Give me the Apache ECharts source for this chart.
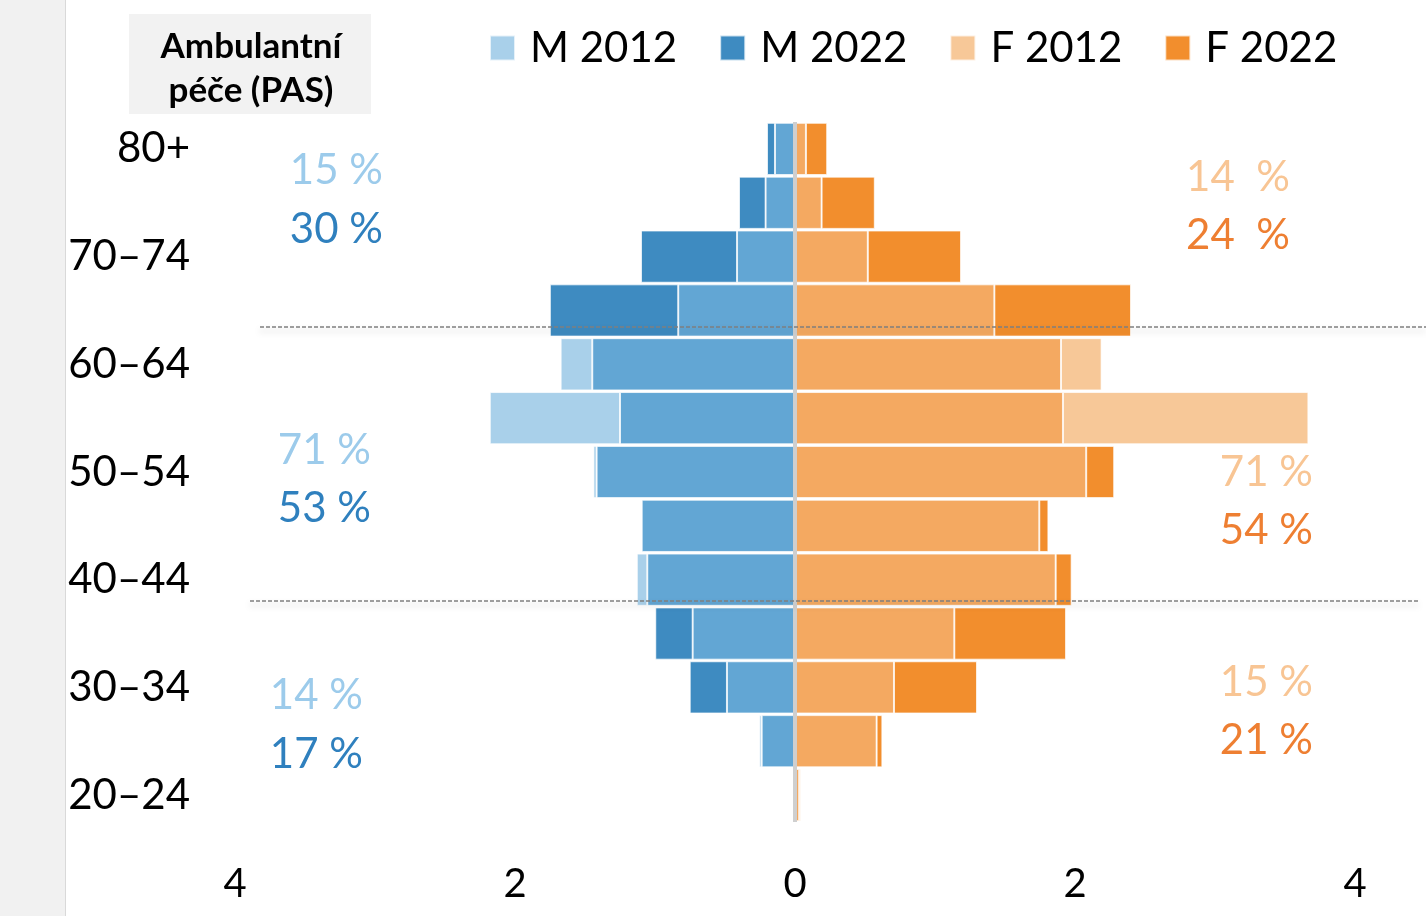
<!DOCTYPE html>
<html>
<head>
<meta charset="utf-8">
<script src="https://cdn.jsdelivr.net/npm/echarts@6/dist/echarts.min.js"></script>
<style>
html, body { margin: 0; padding: 0; background: #fff; }
#chart { width: 1426px; height: 916px; }
</style>
</head>
<body>
<div id="chart"></div>
<script>
// age groups, bottom to top
var ageGroups = ['20–24', '25–29', '30–34', '35–39', '40–44', '45–49', '50–54', '55–59', '60–64', '65–69', '70–74', '75–79', '80+'];
var m2012 = [0.01, 0.255, 0.486, 0.731, 1.13, 1.095, 1.44, 2.18, 1.674, 0.834, 0.414, 0.21, 0.143];
var m2022 = [0.01, 0.238, 0.752, 0.998, 1.055, 1.095, 1.417, 1.25, 1.448, 1.751, 1.10, 0.40, 0.20];
var f2012 = [0.03, 0.583, 0.707, 1.138, 1.862, 1.745, 2.08, 3.667, 2.19, 1.424, 0.52, 0.19, 0.078];
var f2022 = [0.04, 0.624, 1.30, 1.936, 1.976, 1.81, 2.28, 1.914, 1.90, 2.40, 1.186, 0.57, 0.23];

// share labels: [2012, 2022] for top / middle / bottom age blocks
var mShares = [['15 %', '30 %'], ['71 %', '53 %'], ['14 %', '17 %']];
var fShares = [['14  %', '24  %'], ['71 %', '54 %'], ['15 %', '21 %']];

var cM12 = '#a9d0ea', cM22 = '#3e8bc1', cMov = '#62a6d4';
var cF12 = '#f7c898', cF22 = '#f28e2d', cFov = '#f4a961';
var txtM12 = '#9ccbeb', txtM22 = '#2f80be', txtF12 = '#f8c594', txtF22 = '#ee7f32';
var font = 'Lato, "Open Sans", sans-serif';

function overlap(a, b, sign) {
    return a.map(function (v, i) { return sign * Math.min(v, b[i]); });
}
function excess(a, b, sign) {
    return a.map(function (v, i) {
        var d = v - b[i];
        return d > 0.001 ? sign * d : '-';
    });
}

function bar(name, data, stack, color, extra) {
    var s = {
        name: name,
        type: 'bar',
        stack: stack,
        data: data,
        barGap: '-100%',
        barCategoryGap: '3%',
        itemStyle: { color: color, borderColor: 'rgba(255,255,255,0.7)', borderWidth: 1 },
        emphasis: { disabled: true }
    };
    if (extra) { for (var k in extra) s[k] = extra[k]; }
    return s;
}

function shareText(str, x, y, color) {
    return {
        type: 'text', x: x, y: y, z: 10,
        style: { text: str, fill: color, font: '42px ' + font, textAlign: 'right', textVerticalAlign: 'middle' }
    };
}

function dashLine(x1, x2, y) {
    return {
        type: 'line', z: 20, silent: true,
        shape: { x1: x1, y1: y, x2: x2, y2: y },
        style: {
            stroke: '#7f7f7f', lineWidth: 1.5, lineDash: [4, 2],
            shadowBlur: 6, shadowOffsetY: 4, shadowColor: 'rgba(0,0,0,0.25)'
        }
    };
}

var chart = echarts.init(document.getElementById('chart'));
var option = {
    backgroundColor: '#fff',
    animation: false,
    textStyle: { fontFamily: font },
    grid: { left: 235, right: 71, top: 122, bottom: 94, containLabel: false },
    legend: {
        data: ['M 2012', 'M 2022', 'F 2012', 'F 2022'],
        left: 484, top: 22,
        itemWidth: 25, itemHeight: 25, itemGap: 42,
        icon: 'rect', selectedMode: false,
        textStyle: { fontSize: 42, color: '#000', padding: [0, 0, 0, 10], fontFamily: font }
    },
    xAxis: {
        type: 'value', min: -4, max: 4, interval: 2,
        axisLine: { show: false }, axisTick: { show: false }, splitLine: { show: false },
        axisLabel: {
            fontSize: 40, color: '#000', margin: 42,
            formatter: function (v) { return Math.abs(v); }
        }
    },
    yAxis: {
        type: 'category', data: ageGroups,
        axisLine: { show: false, onZero: false }, axisTick: { show: false },
        axisLabel: { interval: 1, fontSize: 42, color: '#000', margin: 45 }
    },
    series: [
        bar('M ov', overlap(m2012, m2022, -1), 'm', cMov, {
            markLine: {
                silent: true, symbol: 'none', label: { show: false },
                lineStyle: { color: '#cfcfcf', width: 4, type: 'solid' },
                data: [{ xAxis: 0 }]
            }
        }),
        bar('M 2022', excess(m2022, m2012, -1), 'm', cM22),
        bar('M 2012', excess(m2012, m2022, -1), 'm', cM12),
        bar('F ov', overlap(f2012, f2022, 1), 'f', cFov),
        bar('F 2022', excess(f2022, f2012, 1), 'f', cF22),
        bar('F 2012', excess(f2012, f2022, 1), 'f', cF12)
    ],
    graphic: [
        { type: 'rect', z: 0, shape: { x: 0, y: 0, width: 65, height: 916 }, style: { fill: '#f1f1f1' } },
        { type: 'line', z: 0, shape: { x1: 65.5, y1: 0, x2: 65.5, y2: 916 }, style: { stroke: '#d9d9d9', lineWidth: 1 } },
        { type: 'rect', z: 0, shape: { x: 129, y: 14, width: 242, height: 100 }, style: { fill: '#f2f2f2' } },
        {
            type: 'text', z: 1, x: 251, y: 47,
            style: { text: 'Ambulantní', fill: '#000', font: 'bold 35px ' + font, textAlign: 'center', textVerticalAlign: 'middle' }
        },
        {
            type: 'text', z: 1, x: 251, y: 91,
            style: { text: 'péče (PAS)', fill: '#000', font: 'bold 35px ' + font, textAlign: 'center', textVerticalAlign: 'middle' }
        },
        shareText(mShares[0][0], 383, 170, txtM12),
        shareText(mShares[0][1], 383, 229, txtM22),
        shareText(mShares[1][0], 371, 450, txtM12),
        shareText(mShares[1][1], 371, 508, txtM22),
        shareText(mShares[2][0], 363, 695, txtM12),
        shareText(mShares[2][1], 363, 754, txtM22),
        shareText(fShares[0][0], 1290, 177, txtF12),
        shareText(fShares[0][1], 1290, 235, txtF22),
        shareText(fShares[1][0], 1313, 472, txtF12),
        shareText(fShares[1][1], 1313, 530, txtF22),
        shareText(fShares[2][0], 1313, 682, txtF12),
        shareText(fShares[2][1], 1313, 740, txtF22),
        dashLine(260, 1426, 327),
        dashLine(250, 1418, 601)
    ]
};
chart.setOption(option);
window.addEventListener('resize', chart.resize);
</script>
</body>
</html>
